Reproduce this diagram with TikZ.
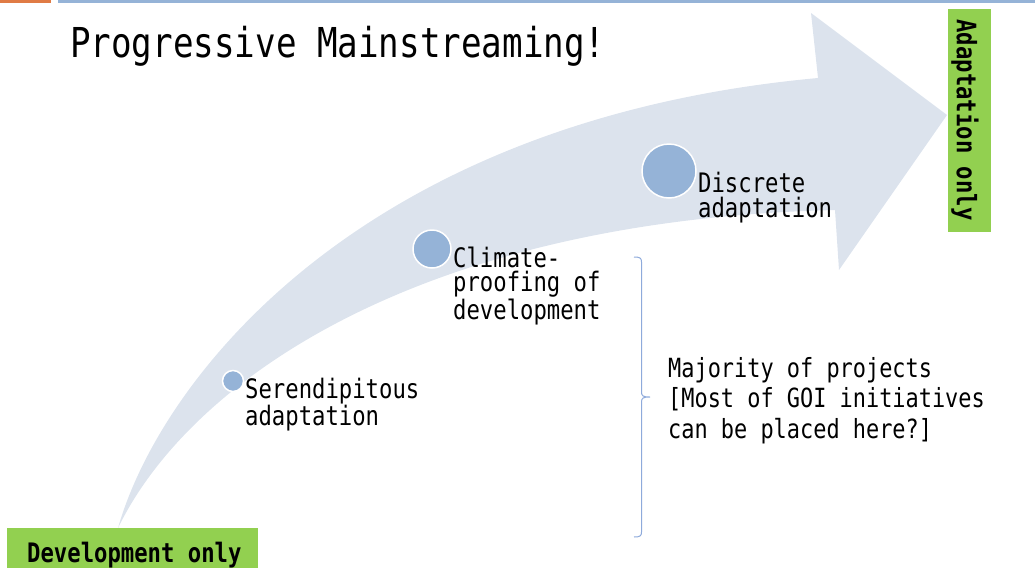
\documentclass[tikz,border=0pt]{standalone}
\usepackage{fontspec}
\newfontfamily\gmono[FakeStretch=0.83]{DejaVu Sans Mono}
\definecolor{arrowfill}{HTML}{DCE3ED}
\definecolor{dotblue}{HTML}{95B3D7}
\definecolor{lgreen}{HTML}{92D050}
\definecolor{topor}{HTML}{E07B45}
\definecolor{braceblue}{HTML}{8EAADB}
\tikzset{
  lbl/.style={inner sep=0pt, anchor=base west, align=left, font={\gmono\fontsize{26.8}{24.5}\selectfont}},
  dot/.style={circle, fill=dotblue, draw=white, line width=1.5pt, inner sep=0pt},
  greenbox/.style={fill=lgreen, draw=none},
}
\begin{document}
\begin{tikzpicture}[x=1pt,y=-1pt]
\useasboundingbox (0,0) rectangle (1035,568);
% top bars
\fill[topor] (0,0) rectangle (51,3);
\fill[dotblue] (58,0) rectangle (1035,3);
% title
\node[lbl, font={\gmono\fontsize{41.2}{45}\selectfont}] (title) at (70,57) {Progressive Mainstreaming!};
% big curved arrow
\fill[arrowfill] (118,528) .. controls (160,380) and (360,120) .. (818,78)
  -- (811,13) -- (947,115) -- (839,270) -- (835,210)
  .. controls (420,220) and (190,380) .. (118,528) -- cycle;
% dots
\node[dot, minimum size=21pt] (d1) at (233,381) {};
\node[dot, minimum size=38pt] (d2) at (432,249) {};
\node[dot, minimum size=54pt] (d3) at (669,171) {};
% labels (anchored at last line baseline)
\node[lbl] (t1) at (245,425) {Serendipitous\\adaptation};
\node[lbl] (t2) at (453,319) {Climate-\\proofing of\\development};
\node[lbl] (t3) at (698,217) {Discrete\\adaptation};
\node[lbl, font={\gmono\fontsize{26.4}{30.5}\selectfont}] (t4) at (668,438) {Majority of projects\\{}[Most of GOI initiatives\\can be placed here?]};
% brace
\draw[braceblue, line width=1pt] (634,257) .. controls (640,257) and (641.5,258) .. (641.5,262)
  -- (641.5,392) .. controls (641.5,396) and (643,397) .. (650,397)
  .. controls (643,397) and (641.5,398) .. (641.5,402)
  -- (641.5,532) .. controls (641.5,536) and (640,537) .. (634,537);
% green boxes
\fill[greenbox] (7,528) rectangle (258,568);
\node[lbl, font={\gmono\bfseries\fontsize{26.8}{30}\selectfont}] (dev) at (27,562) {Development only};
\fill[greenbox] (948,9) rectangle (991,232);
\node[inner sep=0pt, rotate=-90, font={\gmono\bfseries\fontsize{26.8}{30}\selectfont}] (ada) at (965,120) {Adaptation only};
\end{tikzpicture}
\end{document}
